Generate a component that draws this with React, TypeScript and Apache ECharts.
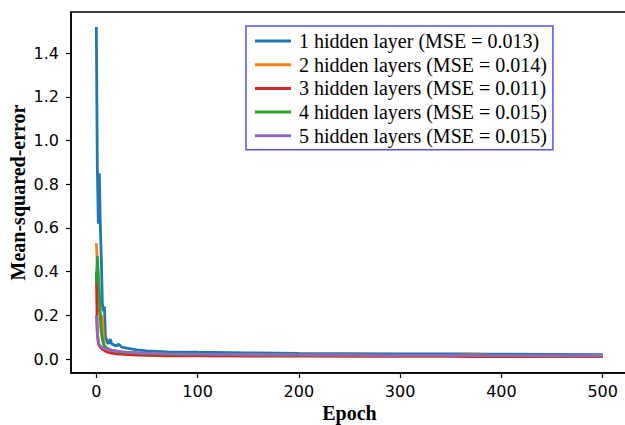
import React, { useEffect, useRef } from "react";
import * as echarts from "echarts";

const epochs = [0, 1, 2, 3, 4, 5, 6, 7, 8, 9, 10, 11, 12, 13, 14, 15, 17, 20, 22, 25, 30, 40, 50, 70, 100, 150, 200, 250, 300, 350, 370, 385, 400, 450, 500];

const seriesNames = [
  "1 hidden layer (MSE = 0.013)",
  "2 hidden layers (MSE = 0.014)",
  "3 hidden layers (MSE = 0.011)",
  "4 hidden layers (MSE = 0.015)",
  "5 hidden layers (MSE = 0.015)",
];

const seriesColors = ["#1f77b4", "#ff7f0e", "#d62728", "#2ca02c", "#9467bd"];

const layer1 = [1.52, 0.88, 0.62, 0.85, 0.6, 0.45, 0.25, 0.22, 0.24, 0.1, 0.09, 0.075, 0.07, 0.085, 0.09, 0.07, 0.065, 0.06, 0.068, 0.055, 0.05, 0.042, 0.037, 0.033, 0.031, 0.028, 0.026, 0.025, 0.024, 0.023, 0.023, 0.022, 0.022, 0.021, 0.02];
const layer2 = [0.53, 0.45, 0.35, 0.22, 0.2, 0.12, 0.2, 0.1, 0.06, 0.055, 0.05, 0.048, 0.046, 0.044, 0.042, 0.04, 0.038, 0.035, 0.034, 0.032, 0.03, 0.027, 0.025, 0.022, 0.02, 0.019, 0.018, 0.018, 0.017, 0.017, 0.019, 0.018, 0.016, 0.016, 0.015];
const layer3 = [0.4, 0.12, 0.07, 0.06, 0.055, 0.05, 0.045, 0.042, 0.04, 0.036, 0.033, 0.031, 0.03, 0.029, 0.028, 0.027, 0.026, 0.024, 0.023, 0.022, 0.02, 0.018, 0.017, 0.015, 0.014, 0.0135, 0.013, 0.0125, 0.012, 0.012, 0.0115, 0.0115, 0.011, 0.011, 0.011];
const layer4 = [0.35, 0.47, 0.38, 0.3, 0.2, 0.12, 0.09, 0.07, 0.06, 0.055, 0.05, 0.048, 0.046, 0.044, 0.042, 0.04, 0.038, 0.035, 0.034, 0.032, 0.03, 0.027, 0.025, 0.023, 0.021, 0.019, 0.018, 0.018, 0.017, 0.017, 0.016, 0.016, 0.016, 0.015, 0.015];
const layer5 = [0.2, 0.12, 0.08, 0.065, 0.06, 0.055, 0.052, 0.05, 0.048, 0.046, 0.045, 0.044, 0.043, 0.042, 0.041, 0.04, 0.039, 0.037, 0.036, 0.034, 0.032, 0.029, 0.027, 0.024, 0.022, 0.02, 0.019, 0.018, 0.017, 0.017, 0.016, 0.016, 0.016, 0.015, 0.015];

const allValues = [layer1, layer2, layer3, layer4, layer5];

const xTicks = [0, 100, 200, 300, 400, 500];
const yTicks = [0, 0.2, 0.4, 0.6, 0.8, 1.0, 1.2, 1.4];

export default function App() {
  const ref = useRef<HTMLDivElement>(null);
  useEffect(() => {
    if (!ref.current) return;
    const chart = echarts.init(ref.current, null, { renderer: "svg" });
    const tickFont = { fontFamily: "DejaVu Sans", fontSize: 16, color: "#000" };
    chart.setOption({
      animation: false,
      backgroundColor: "#fff",
      grid: {
        left: 71,
        top: 12,
        width: 557,
        height: 361,
        show: true,
        borderColor: "#000",
        borderWidth: 1.5,
        backgroundColor: "transparent",
        outerBoundsMode: "none",
        containLabel: false,
      },
      legend: {
        orient: "vertical",
        left: 246,
        top: 26,
        padding: [5, 6, 4, 9],
        borderColor: "#5050ff",
        borderWidth: 1.5,
        backgroundColor: "#fff",
        itemWidth: 36,
        itemHeight: 3,
        itemGap: 3.7,
        icon: "rect",
        textStyle: {
          fontFamily: "Liberation Serif",
          fontSize: 20,
          lineHeight: 20,
          color: "#000",
          padding: [0, 0, 0, 3],
        },
        data: seriesNames,
      },
      xAxis: {
        type: "value",
        min: -25,
        max: 525,
        name: "Epoch",
        nameLocation: "middle",
        nameGap: 30,
        nameMoveOverlap: false,
        nameTextStyle: {
          fontFamily: "Liberation Serif",
          fontWeight: "bold",
          fontSize: 20,
          color: "#000",
        },
        axisLine: { show: true, onZero: false, lineStyle: { color: "#000", width: 1.5 } },
        axisTick: {
          show: true,
          customValues: xTicks,
          length: 5,
          lineStyle: { color: "#000", width: 1.2 },
        },
        axisLabel: {
          customValues: xTicks,
          margin: 10,
          ...tickFont,
        },
        splitLine: { show: false },
      },
      yAxis: {
        type: "value",
        min: -0.064,
        max: 1.589,
        name: "Mean-squared-error",
        nameLocation: "middle",
        nameGap: 43,
        nameMoveOverlap: false,
        nameTextStyle: {
          fontFamily: "Liberation Serif",
          fontWeight: "bold",
          fontSize: 20,
          color: "#000",
        },
        axisLine: { show: true, onZero: false, lineStyle: { color: "#000", width: 1.5 } },
        axisTick: {
          show: true,
          customValues: yTicks,
          length: 5,
          lineStyle: { color: "#000", width: 1.2 },
        },
        axisLabel: {
          customValues: yTicks,
          margin: 12,
          formatter: (v: number) => v.toFixed(1),
          ...tickFont,
        },
        splitLine: { show: false },
      },
      series: allValues.map((vals, i) => ({
        name: seriesNames[i],
        type: "line",
        data: epochs.map((e, j) => [e, vals[j]]),
        symbol: "none",
        showSymbol: false,
        color: seriesColors[i],
        lineStyle: { color: seriesColors[i], width: 2.8 },
      })),
    });
    return () => chart.dispose();
  }, []);
  return (
    <div
      ref={ref}
      style={{ position: "absolute", left: 0, top: 0, width: 625, height: 425 }}
    />
  );
}
